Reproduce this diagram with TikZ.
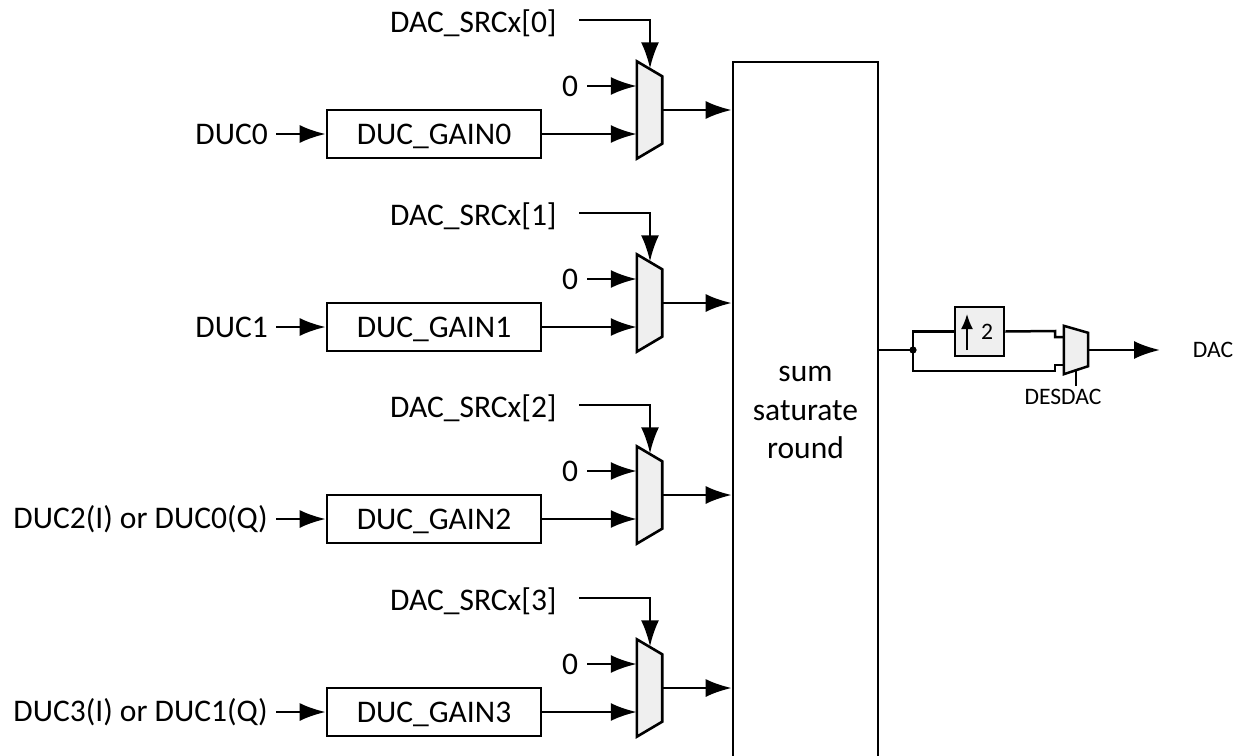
\documentclass[tikz,border=0pt]{standalone}
\usepackage{fontspec}
\setmainfont{Carlito}
\usepackage{xcolor}
\usetikzlibrary{arrows.meta,positioning,calc}
\definecolor{muxgray}{HTML}{EFEFEF}
\tikzset{
  sig/.style={line width=2.5pt,-{Latex[length=26pt,width=18pt]}},
  wire/.style={line width=2.5pt},
  gainbox/.style={draw,line width=2.6pt,minimum width=214pt,minimum height=48pt,inner sep=0pt,
    text height=25pt,text depth=5pt,font=\fontsize{31.5}{36}\selectfont},
  lbl/.style={inner sep=0pt,font=\fontsize{31.5}{36}\selectfont},
  tinylbl/.style={inner sep=0pt,font=\fontsize{23.6}{26}\selectfont},
  muxbox/.style={inner sep=0pt,minimum width=25pt,minimum height=97pt}
}
\begin{document}
\begin{tikzpicture}[x=1pt,y=-1pt]
  \useasboundingbox (0,0) rectangle (1236,755);
  \clip (0,0) rectangle (1236,755);
  \node[draw,line width=2.6pt,minimum width=145pt,minimum height=701pt,align=center,
        font=\fontsize{31.5}{38.5}\selectfont] (sum) at (805.5,412.5) {sum\\saturate\\round};
  % one row for each converter
  \foreach \i/\rowy/\name in {0/110/DUC0,1/303/DUC1,2/495/DUC2(I) or DUC0(Q),3/688/DUC3(I) or DUC1(Q)} {
    \node[muxbox] (mux\i) at (649.5,\rowy) {};
    \draw[wire,line width=2.6pt,fill=muxgray] (mux\i.north west)
      -- ([yshift=-15pt]mux\i.north east) -- ([yshift=15pt]mux\i.south east)
      -- (mux\i.south west) -- cycle;
    \node[gainbox] (gain\i) at (434,\rowy+24) {DUC\_GAIN\i};
    \node[lbl,anchor=east] (duc\i) at (268,\rowy+24) {\name};
    \node[lbl] (zero\i) at (570,\rowy-24) {0};
    \node[lbl,anchor=west] (src\i) at (390,\rowy-87) {DAC\_SRCx[\i]};
    \coordinate (srcend\i) at (579,\rowy-90);
    \draw[sig] (duc\i.east) ++(8,0) -- (gain\i.west);
    \draw[sig] (gain\i.east) -- (mux\i.west |- gain\i);
    \draw[sig] (zero\i.east) ++(9,0) -- (mux\i.west |- zero\i);
    \draw[sig] (mux\i.east) -- (sum.west |- mux\i);
    \draw[sig,line width=2pt] (srcend\i) -| ([xshift=0.5pt,yshift=-7pt]mux\i.north);
  }
  % output stage
  \node[draw,wire,fill=muxgray,minimum size=49pt,inner sep=0pt] (up) at (979.5,331.5) {};
  \node[tinylbl] (two) at (987,332) {2};
  \coordinate (uptop) at (967,314);
  \coordinate (upbot) at (967,350);
  \draw[line width=1.8pt,-{Latex[length=15pt,width=12pt]}] (upbot) -- (uptop);
  \node[muxbox,minimum width=24pt,minimum height=48pt] (outmux) at (1076,350) {};
  \draw[wire,fill=muxgray] (outmux.north west)
    -- ([yshift=-7pt]outmux.north east) -- ([yshift=8pt]outmux.south east)
    -- (outmux.south west) -- cycle;
  \coordinate (split) at (913,350);
  \coordinate (dacend) at (1160,350);
  \node[tinylbl] (dac) at (1213,350) {DAC};
  \node[tinylbl] (desdac) at (1063,397) {DESDAC};
  \fill (split) circle (3.6pt);
  \draw[wire] (sum.east |- split) -- (split);
  \draw[wire] (split) |- (up.west);
  \draw[wire] (up.east) -- (1055,331) -- (1055,337) -- (outmux.west |- 0,337);
  \draw[wire] (split) -- (913,371) -- (1055,371) -- (1055,365) -- (outmux.west |- 0,365);
  \draw[sig] (outmux.east |- split) -- (dacend);
  \draw[wire] (1076,370) -- (1076,386);
\end{tikzpicture}
\end{document}
